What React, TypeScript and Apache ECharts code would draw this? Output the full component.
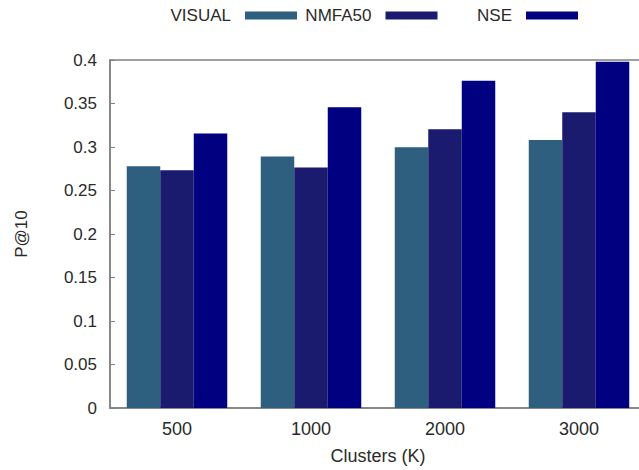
import React, { useEffect, useRef } from "react";
import * as echarts from "echarts";

const categories = ["500", "1000", "2000", "3000"];
const seriesNames = ["VISUAL", "NMFA50", "NSE"];
const visual = [0.278, 0.289, 0.2996, 0.308];
const nmfa50 = [0.2734, 0.2764, 0.3204, 0.34];
const nse = [0.3155, 0.3458, 0.3761, 0.398];
const colors = ["#2f5f7e", "#1a1a6e", "#000080"];
const yTicks = { min: 0, max: 0.4, interval: 0.05 };

const CHART_W = 660;
const CHART_H = 470;

export default function App() {
  const ref = useRef<HTMLDivElement>(null);

  useEffect(() => {
    if (!ref.current) return;
    const chart = echarts.init(ref.current, null, { renderer: "svg" });
    const font = "'Liberation Sans', Arial, sans-serif";
    const textColor = "#2a2a2a";
    const axisColor = "#808080";
    const legendRights = [CHART_W - 297, CHART_W - 437.5, CHART_W - 578];
    const dataSets = [visual, nmfa50, nse];

    chart.setOption({
      animation: false,
      backgroundColor: "#fff",
      textStyle: { fontFamily: font },
      legend: seriesNames.map((name, i) => ({
        data: [name],
        right: legendRights[i],
        top: 7,
        padding: 0,
        align: "right",
        icon: "rect",
        itemWidth: 52,
        itemHeight: 8,
        textStyle: {
          fontFamily: font,
          fontSize: 17,
          color: textColor,
          padding: [0, 9, 0, 0],
        },
      })),
      grid: {
        left: 110,
        right: CHART_W - 646,
        top: 60,
        bottom: CHART_H - 411.7,
        show: true,
        borderColor: axisColor,
        borderWidth: 1.5,
        containLabel: false,
      },
      xAxis: {
        type: "category",
        data: categories,
        name: "Clusters (K)",
        nameLocation: "middle",
        nameGap: 39,
        nameTextStyle: { fontFamily: font, fontSize: 18, color: textColor },
        axisLine: { show: true, lineStyle: { color: axisColor, width: 1.5 } },
        axisTick: { show: false },
        axisLabel: {
          fontFamily: font,
          fontSize: 18,
          color: textColor,
          margin: 12,
        },
        splitLine: { show: false },
      },
      yAxis: {
        type: "value",
        min: yTicks.min,
        max: yTicks.max,
        interval: yTicks.interval,
        name: "P@10",
        nameLocation: "middle",
        nameGap: 80,
        nameTextStyle: { fontFamily: font, fontSize: 17, color: textColor },
        axisLine: { show: true, lineStyle: { color: axisColor, width: 1.5 } },
        axisTick: {
          show: true,
          inside: true,
          length: 5,
          lineStyle: { color: axisColor, width: 1 },
        },
        axisLabel: {
          fontFamily: font,
          fontSize: 17,
          color: textColor,
          margin: 13,
          formatter: (v: number) => String(parseFloat(v.toFixed(2))),
        },
        splitLine: { show: false },
      },
      series: seriesNames.map((name, i) => ({
        name,
        type: "bar",
        data: dataSets[i],
        barGap: "0%",
        barCategoryGap: "25%",
        itemStyle: { color: colors[i] },
      })),
    });

    return () => chart.dispose();
  }, []);

  return (
    <div
      style={{
        position: "fixed",
        left: 0,
        top: 0,
        width: 639,
        height: 470,
        overflow: "hidden",
        background: "#fff",
      }}
    >
      <div ref={ref} style={{ width: CHART_W, height: CHART_H }} />
    </div>
  );
}
